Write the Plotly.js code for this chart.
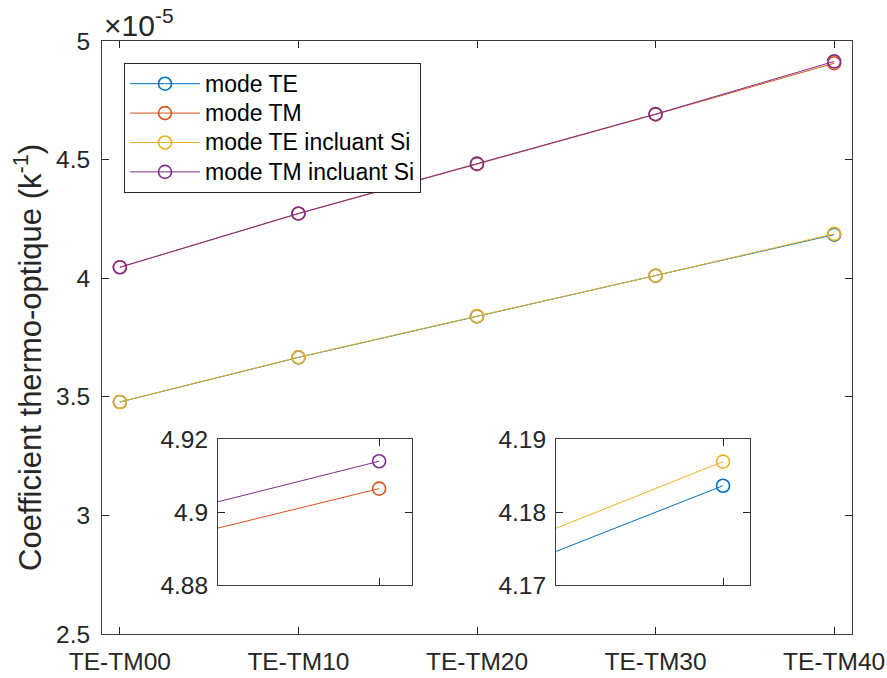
<!DOCTYPE html>
<html>
<head>
<meta charset="utf-8">
<script src="https://cdn.plot.ly/plotly-3.0.1.min.js"></script>
<style>html,body{margin:0;padding:0;background:#fff;}#chart{width:887px;height:678px;}</style>
</head>
<body>
<div id="chart"></div>
<script>
// Categories (x axis)
const categories = ["TE-TM00", "TE-TM10", "TE-TM20", "TE-TM30", "TE-TM40"];
// Thermo-optic coefficient, in units of 1e-5 K^-1
const modeTE       = [3.478, 3.666, 3.839, 4.0105, 4.1836];
const modeTM       = [4.046, 4.272, 4.481, 4.6904, 4.9064];
const modeTESi     = [3.478, 3.667, 3.840, 4.0113, 4.1869];
const modeTMSi     = [4.046, 4.273, 4.483, 4.6919, 4.9139];
const seriesNames  = ["mode TE", "mode TM", "mode TE incluant Si", "mode TM incluant Si"];
const yTitle = "Coefficient thermo-optique (k<sup>-1</sup>)";

const colors = ["#0072BD", "#D95319", "#EDB120", "#7E2F8E"];
const allSeries = [modeTE, modeTM, modeTESi, modeTMSi];

const FONT = "Liberation Sans, Arial, Helvetica, sans-serif";
const AX = "#262626";
const LINEC = "#3c3c3c";

function tr(i, xa, ya, show) {
  return {
    x: categories, y: allSeries[i],
    name: '<span style="font-size:23px">' + seriesNames[i] + '</span>',
    type: "scatter", mode: "lines+markers",
    xaxis: xa, yaxis: ya, showlegend: show,
    line: {color: colors[i], width: 1},
    marker: {symbol: "circle-open", size: 13, color: colors[i], line: {width: 1.6, color: colors[i]}},
    hoverinfo: "skip"
  };
}

const data = [
  tr(0, "x", "y", true), tr(1, "x", "y", true), tr(2, "x", "y", true), tr(3, "x", "y", true),
  tr(1, "x2", "y2", false), tr(3, "x2", "y2", false),
  tr(0, "x3", "y3", false), tr(2, "x3", "y3", false)
];

function axBase(extra) {
  return Object.assign({
    showline: true, linecolor: LINEC, linewidth: 1, mirror: "allticks",
    ticks: "inside", ticklen: 7, tickcolor: AX, tickwidth: 1,
    showgrid: false, zeroline: false,
    tickfont: {family: FONT, size: 24.5, color: AX}
  }, extra);
}

const W = 887, H = 678;
const L = 102, R = 852, T = 41, B = 634;
function px2x(p) { return (p - L) / (R - L); }
function px2y(p) { return (B - p) / (B - T); }

const layout = {
  width: W, height: H,
  margin: {l: L, r: W - R, t: T, b: H - B, pad: 0},
  paper_bgcolor: "#ffffff", plot_bgcolor: "#ffffff",
  font: {family: FONT, color: AX},
  showlegend: true,
  legend: {
    x: px2x(124), y: px2y(63), xanchor: "left", yanchor: "top",
    bgcolor: "#ffffff", bordercolor: AX, borderwidth: 1,
    font: {family: FONT, size: 20.3, color: "#000000"},
    itemwidth: 70
  },
  xaxis: axBase({type: "category", range: [-0.1, 4.1], domain: [0, 1], anchor: "y", ticklabelstandoff: 6}),
  yaxis: axBase({range: [2.5, 5], dtick: 0.5, tick0: 2.5, domain: [0, 1], anchor: "x", ticklabelstandoff: 6}),
  xaxis2: axBase({type: "category", range: [3.95, 4.0102], showticklabels: false,
    domain: [px2x(218), px2x(412)], anchor: "y2"}),
  yaxis2: axBase({range: [4.88, 4.92], dtick: 0.02, tick0: 4.88, ticklabelstandoff: 4,
    domain: [px2y(585), px2y(439)], anchor: "x2"}),
  xaxis3: axBase({type: "category", range: [3.948, 4.0084], showticklabels: false,
    domain: [px2x(556), px2x(750)], anchor: "y3"}),
  yaxis3: axBase({range: [4.17, 4.19], dtick: 0.01, tick0: 4.17, ticklabelstandoff: 4,
    domain: [px2y(585), px2y(439)], anchor: "x3"}),
  annotations: [
    {text: yTitle, xref: "paper", yref: "paper", x: px2x(28), y: px2y(358),
     xanchor: "center", yanchor: "middle", textangle: -90, showarrow: false,
     font: {family: FONT, size: 31, color: AX}},
    {text: "×10<sup>-5</sup>", xref: "paper", yref: "paper", x: px2x(102), y: px2y(44),
     xanchor: "left", yanchor: "bottom", showarrow: false,
     font: {family: FONT, size: 30, color: AX}}
  ]
};

Plotly.newPlot("chart", data, layout, {staticPlot: true, displayModeBar: false});
</script>
</body>
</html>
